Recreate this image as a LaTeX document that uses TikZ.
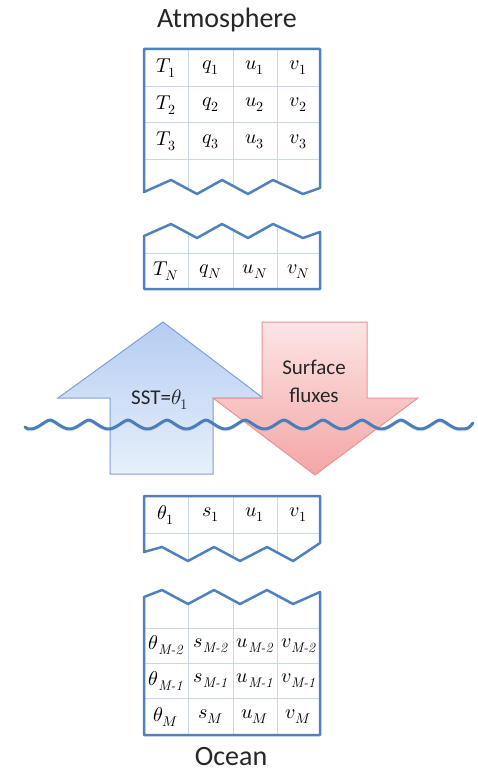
\documentclass[tikz,border=0pt]{standalone}
\usepackage{fontspec}
\usepackage{amsmath}
\usepackage{unicode-math}
\newfontfamily\labelfont{Carlito}

\definecolor{frameblue}{RGB}{79,129,189}
\definecolor{gridblue}{RGB}{200,215,240}
\definecolor{waveblue}{RGB}{74,126,187}
\definecolor{uptop}{RGB}{168,196,240}
\definecolor{upbottom}{RGB}{228,237,251}
\definecolor{upline}{RGB}{126,160,215}
\definecolor{downtop}{RGB}{252,224,224}
\definecolor{downbottom}{RGB}{242,150,150}
\definecolor{downline}{RGB}{232,148,148}
\definecolor{titlegray}{RGB}{38,38,38}

\begin{document}
\begin{tikzpicture}[x=1pt,y=-1pt,thick]

	\tikzstyle{cell}=[inner sep=0pt,font=\fontsize{20}{24}\selectfont]
	\tikzstyle{title}=[inner sep=0pt,font=\labelfont\fontsize{28}{32}\selectfont,text=titlegray]
	\tikzstyle{flux}=[font=\labelfont\fontsize{21}{28}\selectfont,text=titlegray,align=center]
	\tikzstyle{grid}=[draw=gridblue,line width=1pt]
	\tikzstyle{frame}=[draw=frameblue,line width=2.5pt,line join=round]
	\tikzstyle{wave}=[draw=waveblue,line width=3pt,line cap=round,line join=round,
		preaction={draw=black!35,opacity=.3,transform canvas={yshift=-2pt}}]
	\tikzstyle{uparrow}=[draw=upline,line width=1pt,top color=uptop,bottom color=upbottom,fill opacity=.85]
	\tikzstyle{downarrow}=[draw=downline,line width=1pt,top color=downtop,bottom color=downbottom,fill opacity=.85]

	\useasboundingbox (0,0) rectangle (478,775);

	% atmosphere, upper levels
	\node[title] (atm) at (227,20) {Atmosphere};
	\draw[grid] (188,49) -- (188,189.2) (233,49) -- (233,185.9) (277,49) -- (277,181.9)
		(144,87) -- (320,87) (144,123) -- (320,123) (144,160) -- (320,160);
	\draw[frame] (144,192) -- (144,49) -- (320,49) -- (320,188) -- (303,194) -- (273,180)
		-- (248,194) -- (222,180) -- (197,194) -- (171,180) -- cycle;
	\node[cell] (T1) at (166,68) {$T_1$};
	\node[cell] (q1) at (210.5,68) {$q_1$};
	\node[cell] (u1) at (255,68) {$u_1$};
	\node[cell] (v1) at (298.5,68) {$v_1$};
	\node[cell] (T2) at (166,105) {$T_2$};
	\node[cell] (q2) at (210.5,105) {$q_2$};
	\node[cell] (u2) at (255,105) {$u_2$};
	\node[cell] (v2) at (298.5,105) {$v_2$};
	\node[cell] (T3) at (166,141.5) {$T_3$};
	\node[cell] (q3) at (210.5,141.5) {$q_3$};
	\node[cell] (u3) at (255,141.5) {$u_3$};
	\node[cell] (v3) at (298.5,141.5) {$v_3$};

	% atmosphere, lowest level
	\draw[grid] (188,233.2) -- (188,289) (233,229.9) -- (233,289) (277,225.9) -- (277,289)
		(144,254) -- (320,254);
	\draw[frame] (144,236) -- (171,224) -- (197,238) -- (222,224) -- (248,238) -- (273,224)
		-- (303,238) -- (320,232) -- (320,289) -- (144,289) -- cycle;
	\node[cell] (TN) at (166,271.5) {$T_N$};
	\node[cell] (qN) at (210.5,271.5) {$q_N$};
	\node[cell] (uN) at (255,271.5) {$u_N$};
	\node[cell] (vN) at (298.5,271.5) {$v_N$};

	% fluxes across the sea surface
	\draw[uparrow] (163,322) -- (263,398) -- (213,398) -- (213,474) -- (110,474)
		-- (110,398) -- (58,398) -- cycle;
	\draw[downarrow] (262,322) -- (367,322) -- (367,398) -- (418,398) -- (315,475)
		-- (213,398) -- (262,398) -- cycle;
	\node[flux] (sst) at (160,400) {SST=$\theta_1$};
	\node[flux] (fluxes) at (314,381) {Surface\\fluxes};

	% sea surface
	\draw[wave] (25,427) .. controls (27,429) .. (30.5,429)
		\foreach \c in {50,89,...,440} {
			.. controls (\c-12,429) and (\c-5,420.5) .. (\c,420)
			.. controls (\c+5,420.5) and (\c+12,429) .. (\c+19.5,429)}
		.. controls (468,429) .. (473,423);

	% ocean, top level
	\draw[grid] (188,496) -- (188,561) (233,496) -- (233,557.2) (277,496) -- (277,552.4)
		(144,533) -- (320,533);
	\draw[frame] (144,552) -- (144,496) -- (320,496) -- (320,543) -- (293,561) -- (267,547)
		-- (240,561) -- (214,547) -- (188,561) -- (162,547) -- cycle;
	\node[cell] (th1) at (166,514.5) {$\theta_1$};
	\node[cell] (s1) at (210.5,514.5) {$s_1$};
	\node[cell] (ou1) at (255,514.5) {$u_1$};
	\node[cell] (ov1) at (298.5,514.5) {$v_1$};

	% ocean, bottom levels
	\draw[grid] (188,604) -- (188,735) (233,600.2) -- (233,735) (277,595.4) -- (277,735)
		(144,628) -- (320,628) (144,663) -- (320,663) (144,698) -- (320,698);
	\draw[frame] (144,597) -- (162,590) -- (188,604) -- (214,590) -- (240,604) -- (267,590)
		-- (293,604) -- (320,592) -- (320,735) -- (144,735) -- cycle;
	\node[cell] (thM2) at (166,645.5) {$\theta_{\textit{M-2}}$};
	\node[cell] (sM2) at (210.5,645.5) {$s_{\textit{M-2}}$};
	\node[cell] (uM2) at (255,645.5) {$u_{\textit{M-2}}$};
	\node[cell] (vM2) at (298.5,645.5) {$v_{\textit{M-2}}$};
	\node[cell] (thM1) at (166,680.5) {$\theta_{\textit{M-1}}$};
	\node[cell] (sM1) at (210.5,680.5) {$s_{\textit{M-1}}$};
	\node[cell] (uM1) at (255,680.5) {$u_{\textit{M-1}}$};
	\node[cell] (vM1) at (298.5,680.5) {$v_{\textit{M-1}}$};
	\node[cell] (thM) at (166,716.5) {$\theta_M$};
	\node[cell] (sM) at (210.5,716.5) {$s_M$};
	\node[cell] (uM) at (255,716.5) {$u_M$};
	\node[cell] (vM) at (298.5,716.5) {$v_M$};
	\node[title] (ocean) at (231,757) {Ocean};

\end{tikzpicture}
\end{document}
